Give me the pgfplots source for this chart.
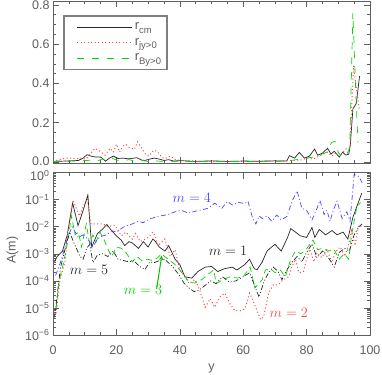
\documentclass[border=0pt]{standalone}
\usepackage{fontspec}
\setmainfont{Liberation Sans}
\usepackage{pgfplots}
\pgfplotsset{compat=1.18}
\definecolor{idlred}{RGB}{255,70,70}
\definecolor{idlgreen}{RGB}{0,215,0}
\definecolor{idlblue}{RGB}{70,70,255}
\definecolor{axgray}{RGB}{95,95,95}
\newcommand{\lsub}[1]{\raisebox{-3.5pt}{\fontsize{9.5}{9.5}\selectfont #1}}
\newcommand{\lentry}[2]{\textcolor{axgray}{#1\lsub{#2}}}
\newcommand{\shiftlab}[2]{\raisebox{#1}[\height][\depth]{#2}}
\pgfplotsset{
  myax/.style={
    scale only axis, width=317pt, xmin=0, xmax=100,
    axis line style={axgray, line width=0.8pt},
    every tick/.style={axgray, line width=0.5pt},
    tick align=inside, tick pos=both,
    major tick length=6pt, minor tick length=3pt,
    xtick={0,20,40,60,80,100}, minor x tick num=3,
    tick label style={font=\fontsize{12.5}{12.5}\selectfont, text=axgray},
  },
  sol/.style={color=black!85, draw=black!85, line width=0.7pt},
  dotr/.style={color=idlred, draw=idlred, line width=1pt, dash pattern=on 1pt off 2.5pt},
  dashg/.style={color=idlgreen, draw=idlgreen, line width=0.7pt, dash pattern=on 7pt off 8pt},
  dashdotb/.style={color=idlblue, draw=idlblue, line width=0.7pt, dash pattern=on 5pt off 2.5pt on 1pt off 2.5pt},
  dashdotdotk/.style={color=black!85, draw=black!85, line width=0.7pt, dash pattern=on 5pt off 2pt on 1pt off 2pt on 1pt off 2pt},
}
\begin{document}
\begin{tikzpicture}
\useasboundingbox (0pt,0pt) rectangle (382pt,-374pt);
% ---------------- top panel ----------------
\begin{axis}[myax,
  at={(53pt,-163pt)}, anchor=south west, height=162pt,
  ymin=-0.005, ymax=0.82, ytick={0,0.2,0.4,0.6,0.8}, minor y tick num=3,
  xticklabels={},
  yticklabels={\shiftlab{1.3pt}{0.0},0.2,0.4,0.6,0.8},
  legend cell align=left,
  legend style={at={(axis cs:3.25,0.7465)}, anchor=north west, draw=axgray!80, line width=1.2pt,
    fill=white, font=\fontsize{13}{13}\selectfont, inner xsep=4pt, inner ysep=3.5pt,
    row sep=0pt,
    /tikz/every even column/.append style={column sep=10pt}},
  legend image code/.code={\path[draw=none, fill=none] (0pt,-7.7pt) rectangle (0.1pt,7.7pt); \draw[#1] (9.4pt,0pt) -- (64.4pt,0pt);},
]
\addplot[sol] coordinates {(0,0.003)(2,0.004)(4,0.005)(6,0.006)(8,0.008)(9.5,0.02)(10.7,0.037)(12,0.03)(13.5,0.025)(15,0.026)(16.6,0.004)(17.8,0.02)(19,0.03)(20.5,0.018)(22,0.02)(24,0.016)(26.4,0.022)(28,0.01)(29,0.008)(30.5,0.015)(32,0.02)(33.5,0.015)(35,0.008)(36.5,0.012)(38,0.005)(40,0.007)(45,0.003)(50,0.006)(55,0.003)(60,0.005)(65,0.004)(70,0.006)(73.7,0.005)(74.6,0.032)(76.2,0.02)(77.7,0.049)(79.3,0.02)(80.9,0.03)(82.5,0.066)(83.5,0.035)(85,0.045)(86.6,0.07)(87.7,0.04)(88.7,0.055)(90.3,0.025)(91.4,0.05)(92.4,0.035)(93.3,0.04)(93.8,0.09)(94.6,0.27)(95.7,0.3)(96.7,0.437)};
\addlegendentry{\lentry{r}{cm}}
\addplot[dotr] coordinates {(0,0.003)(1.5,0.01)(3,0.018)(4.5,0.02)(6,0.02)(7.5,0.017)(8.5,0.02)(10.4,0.015)(12.2,0.05)(13.2,0.07)(14.8,0.055)(16.4,0.035)(18,0.07)(19,0.05)(20,0.091)(21,0.05)(22,0.08)(23,0.09)(24,0.075)(25.7,0.065)(26.7,0.103)(27.8,0.075)(29.2,0.04)(30.2,0.03)(31.8,0.06)(32.8,0.055)(34.4,0.022)(35.4,0.018)(37,0.03)(38.5,0.012)(40.6,0.008)(42.8,0.007)(45,0.004)(50,0.003)(55,0.004)(60,0.003)(65,0.004)(70,0.005)(75,0.008)(78,0.01)(80.4,0.02)(82,0.015)(84,0.03)(86.6,0.05)(88,0.03)(89.5,0.05)(91,0.04)(92.6,0.07)(93.7,0.07)(94.2,0.27)(94.8,0.49)(95.5,0.4)(96.2,0.32)(96.6,0.27)};
\addlegendentry{\lentry{r}{jy>0}}
\addplot[dashg] coordinates {(0,0.002)(2,0.005)(4,0.003)(6,0.006)(8,0.004)(10,0.007)(12,0.01)(14,0.005)(15.5,0.015)(17,0.012)(18.5,0.02)(20,0.01)(22,0.006)(24,0.012)(26,0.004)(28,0.008)(30,0.003)(32,0.006)(35,0.003)(40,0.004)(45,0.002)(50,0.004)(55,0.002)(60,0.003)(65,0.003)(70,0.004)(74,0.005)(76,0.01)(78,0.015)(80,0.02)(82,0.025)(84.8,0.04)(86.3,0.05)(87.9,0.1)(89,0.105)(90,0.05)(91,0.025)(92.7,0.04)(93.6,0.07)(94.6,0.76)(95.4,0.4)(96.2,0.1)};
\addlegendentry{\lentry{r}{By>0}}
\end{axis}
% ---------------- bottom panel ----------------
\begin{axis}[myax,
  at={(53pt,-335pt)}, anchor=south west, height=162.5pt,
  ymode=log, ymin=1e-6, ymax=1,
  ytick={1e-6,1e-5,1e-4,1e-3,1e-2,1e-1,1},
  yticklabels={10\textsuperscript{−6},10\textsuperscript{−5},10\textsuperscript{−4},10\textsuperscript{−3},10\textsuperscript{−2},10\textsuperscript{−1},\shiftlab{-3pt}{10\textsuperscript{0}}},
  minor ytick={2e-6,3e-6,4e-6,5e-6,6e-6,7e-6,8e-6,9e-6,2e-5,3e-5,4e-5,5e-5,6e-5,7e-5,8e-5,9e-5,2e-4,3e-4,4e-4,5e-4,6e-4,7e-4,8e-4,9e-4,2e-3,3e-3,4e-3,5e-3,6e-3,7e-3,8e-3,9e-3,2e-2,3e-2,4e-2,5e-2,6e-2,7e-2,8e-2,9e-2,0.2,0.3,0.4,0.5,0.6,0.7,0.8,0.9},
  xticklabel style={yshift=-7pt},
  xticklabel={\pgfmathprintnumber[assume math mode=true]{\tick}},
  xlabel={y}, ylabel={A(m)},
  label style={font=\fontsize{12.5}{12.5}\selectfont, text=axgray},
  xlabel style={at={(axis description cs:0.5,0)}, anchor=base, yshift=-35pt},
  ylabel style={at={(axis description cs:-0.128,0.523)}, anchor=center},
]
% m=1
\addplot[sol] coordinates {(0.5,5.0e-4)(1.3,7.9e-4)(3,1.26e-3)(4.5,5.0e-3)(6.2,7.4e-2)(7.9,1.1e-2)(9.5,4.0e-2)(11,0.148)(12.2,1.78e-3)(14,5.5e-3)(15.5,7.9e-3)(17,1.2e-2)(18.5,7.1e-3)(20,4.6e-3)(21.5,3.2e-3)(22.6,2.0e-3)(24,2.8e-3)(25,2.5e-3)(27,1.58e-3)(28.5,2.8e-3)(30,1.78e-3)(31.5,3.5e-3)(32.2,2.95e-3)(33.5,1.78e-3)(35.3,1.26e-3)(36.5,2.0e-3)(38.5,6.3e-4)(40,4.0e-4)(41.6,1.41e-4)(43.8,1.26e-4)(45.7,2.2e-4)(48,3.2e-4)(50,3.4e-4)(52,2.2e-4)(54,2.8e-4)(56.6,3.2e-4)(58,2.5e-4)(60.5,4.0e-4)(62,6.3e-4)(63.5,2.8e-4)(64.4,2.6e-4)(66,5.0e-4)(67.5,1.26e-3)(70,2.24e-3)(72,1.26e-3)(74,4.0e-3)(75,8.5e-3)(76.5,6.3e-3)(78,4.6e-3)(80,4.0e-3)(81.7,9.3e-3)(82.6,4.0e-3)(84,7.9e-3)(86,5.0e-3)(88,7.2e-3)(89.6,5.0e-3)(91.5,6.3e-3)(93,3.5e-3)(94.6,2.2e-2)(97.4,0.174)};
% m=2
\addplot[dotr] coordinates {(1,6.3e-6)(2.2,1.1e-4)(3.8,5.2e-4)(4.8,8.5e-3)(6.3,9.5e-2)(7.3,5.0e-2)(8.3,2.5e-2)(9.8,6.3e-2)(10.8,0.107)(12,1.26e-2)(14,1.26e-2)(16,1.26e-2)(17,1.0e-2)(19.5,1.12e-2)(21.6,4.6e-3)(23,6.3e-3)(25,3.5e-3)(26,5.6e-3)(27.5,2.8e-3)(30,4.0e-3)(31.5,6.3e-3)(32.2,4.6e-3)(33.2,2.0e-3)(35.3,3.5e-3)(37,7.9e-4)(38.5,1.41e-3)(40,2.5e-4)(41.6,1.41e-4)(43,7.9e-5)(44.8,1.12e-4)(46.3,4.5e-5)(48,1.05e-5)(49.6,2.2e-5)(51,1.05e-5)(52.6,2.5e-5)(54.2,3.5e-5)(55.8,1.41e-5)(57.4,7.9e-6)(59,7.9e-6)(60.5,8.9e-6)(62,3.5e-5)(63,2.0e-5)(64,1.0e-5)(65.5,3.7e-6)(66.5,5.0e-6)(68,3.5e-5)(69.5,7.1e-5)(71,7.1e-5)(72.7,1.1e-4)(74.3,1.41e-4)(75.4,3.4e-4)(76.5,6.3e-4)(77.6,2.0e-4)(79,2.24e-4)(80,6.3e-4)(81,1.48e-3)(82.3,5.0e-4)(83.3,1.12e-3)(84.8,7.1e-4)(86.4,1.48e-3)(88,4.7e-4)(89,1.12e-3)(90.6,1.78e-3)(92,7.9e-4)(93.2,2.0e-3)(94.2,7.1e-3)(95.3,2.0e-3)(96.4,1.1e-2)(97.5,1.0e-2)};
% m=3
\addplot[dashg, dash pattern=on 6pt off 4pt] coordinates {(1,1.0e-5)(2,1.1e-4)(3.2,4.0e-4)(4.8,3.5e-3)(5.8,2.5e-2)(7,5.0e-3)(8,6.3e-3)(9,1.78e-3)(10.5,1.26e-2)(11.5,2.5e-3)(12.6,5.0e-3)(13.6,2.8e-3)(14.8,6.3e-3)(16,3.5e-3)(17.5,1.35e-3)(18.5,7.9e-4)(20,1.78e-3)(21.6,1.58e-3)(23,1.12e-3)(25,5.0e-4)(26.5,7.9e-4)(28,5.6e-4)(29.8,6.3e-4)(31.5,5.6e-4)(33,7.1e-4)(34.2,1.0e-3)(36.3,6.3e-4)(38.5,4.0e-4)(40,2.5e-4)(41.6,1.41e-4)(43,8.9e-5)(44.8,8.3e-5)(47,1.12e-4)(49,1.78e-4)(50.7,2.5e-4)(51.5,7.9e-5)(53.7,1.12e-4)(55.8,1.41e-4)(58,1.26e-4)(60,1.41e-4)(62.2,3.2e-4)(63.7,5.5e-5)(65.3,8.9e-5)(66,1.1e-4)(67,2.5e-4)(68.5,2.8e-4)(70.1,2.0e-4)(71.7,2.5e-4)(73.3,1.41e-4)(75,6.3e-4)(76.5,1.26e-3)(78.2,1.0e-3)(79.8,1.41e-3)(82,3.2e-3)(83.5,1.41e-3)(85,1.58e-3)(86.6,1.26e-3)(88.7,1.41e-3)(90.3,6.3e-4)(91.8,1.0e-3)(93.3,6.3e-4)(94.2,5.0e-3)(95.8,5.0e-2)(97,7.9e-2)};
% m=4
\addplot[dashdotb] coordinates {(0.8,1.58e-4)(1.5,2.5e-4)(2.7,6.3e-4)(4.3,2.95e-3)(6,1.0e-2)(8,4.0e-3)(9.5,5.0e-3)(11,3.5e-3)(12.6,1.78e-3)(14,3.5e-3)(15.5,4.5e-3)(17,5.0e-3)(18.5,7.1e-3)(20,6.3e-3)(22,9.3e-3)(23.5,1.12e-2)(25,1.26e-2)(26.6,1.58e-2)(28.5,1.41e-2)(30.8,2.0e-2)(32.2,2.2e-2)(34,2.5e-2)(36,2.75e-2)(38.5,3.55e-2)(40.5,4.0e-2)(42.6,3.16e-2)(44.8,3.7e-2)(47,4.2e-2)(49,4.8e-2)(51,7.4e-2)(53.3,4.8e-2)(55,8.7e-2)(56.5,6.3e-2)(58.4,7.9e-2)(60.5,7.1e-2)(61.5,8.7e-2)(63,2.0e-2)(64,1.26e-2)(65,2.5e-2)(66,2.0e-2)(67.5,2.5e-2)(69,1.58e-2)(70.6,2.7e-2)(72,1.78e-2)(73.8,2.4e-2)(75.4,8.7e-2)(77,0.209)(78.5,4.8e-2)(80,4.0e-2)(81.7,1.78e-2)(83.3,4.8e-2)(84.2,9.5e-2)(85.5,2.8e-2)(86.4,4.0e-2)(87.4,1.58e-2)(88.4,4.0e-2)(89.6,8.7e-2)(91.2,2.0e-2)(92.7,3.55e-2)(93.7,1.58e-2)(95,0.85)(96.5,0.71)(97.5,0.42)};
% m=5
\addplot[dashdotdotk] coordinates {(0.5,4.5e-6)(2.3,2.8e-4)(3.8,1.48e-3)(5.2,6.3e-3)(7,2.0e-3)(8.5,7.9e-4)(9.5,6.3e-4)(10.6,1.58e-3)(11.6,2.24e-3)(12.6,4.7e-4)(14,8.9e-4)(15.7,1.0e-3)(17.3,7.9e-4)(19,1.26e-3)(20.5,6.3e-4)(22.3,5.6e-4)(24,5.0e-4)(25.5,5.6e-4)(27.2,3.5e-4)(29,2.6e-4)(30.5,5.0e-4)(32,4.7e-4)(33.5,5.6e-4)(35.3,6.3e-4)(37.5,3.5e-4)(39.6,1.78e-4)(41.3,8.3e-5)(42.8,5.6e-5)(44.5,4.0e-5)(46,4.5e-5)(48.2,7.1e-5)(49.8,1.0e-4)(51.4,7.9e-5)(53.5,1.41e-4)(55.6,8.9e-5)(57.7,1.0e-4)(60,1.41e-4)(62,2.0e-4)(63.5,7.1e-5)(65,2.5e-5)(66.5,9.1e-5)(68,2.0e-4)(69.5,3.2e-4)(71,2.24e-4)(72.2,1.1e-4)(74,2.8e-4)(75.5,5.0e-4)(77,7.9e-4)(78.5,5.0e-4)(80,1.12e-3)(81.7,2.3e-3)(83.3,7.1e-4)(85,1.26e-3)(87.2,6.3e-4)(88.7,3.2e-4)(90.3,1.12e-3)(92,1.58e-3)(93.5,1.26e-3)(95,5.0e-3)(96.5,1.0e-2)(97.5,1.26e-2)};
% labels
\node[text=idlblue, font=\fontsize{14}{14}\selectfont] at (axis cs:43.8,0.115) {$m=4$};
\node[text=black!85, font=\fontsize{14}{14}\selectfont] at (axis cs:55.2,1.26e-3) {$m=1$};
\node[text=black!85, font=\fontsize{14}{14}\selectfont] at (axis cs:11.4,2.6e-4) {$m=5$};
\node[text=idlgreen, font=\fontsize{14}{14}\selectfont] at (axis cs:28.4,4.6e-5) {$m=3$};
\node[text=idlred, font=\fontsize{14}{14}\selectfont] at (axis cs:74.4,6.8e-6) {$m=2$};
\draw[idlgreen!90!black, line width=1pt, -stealth] (axis cs:32.7,5.1e-5) -- (axis cs:34.3,8.5e-4);
\end{axis}
\end{tikzpicture}
\end{document}
